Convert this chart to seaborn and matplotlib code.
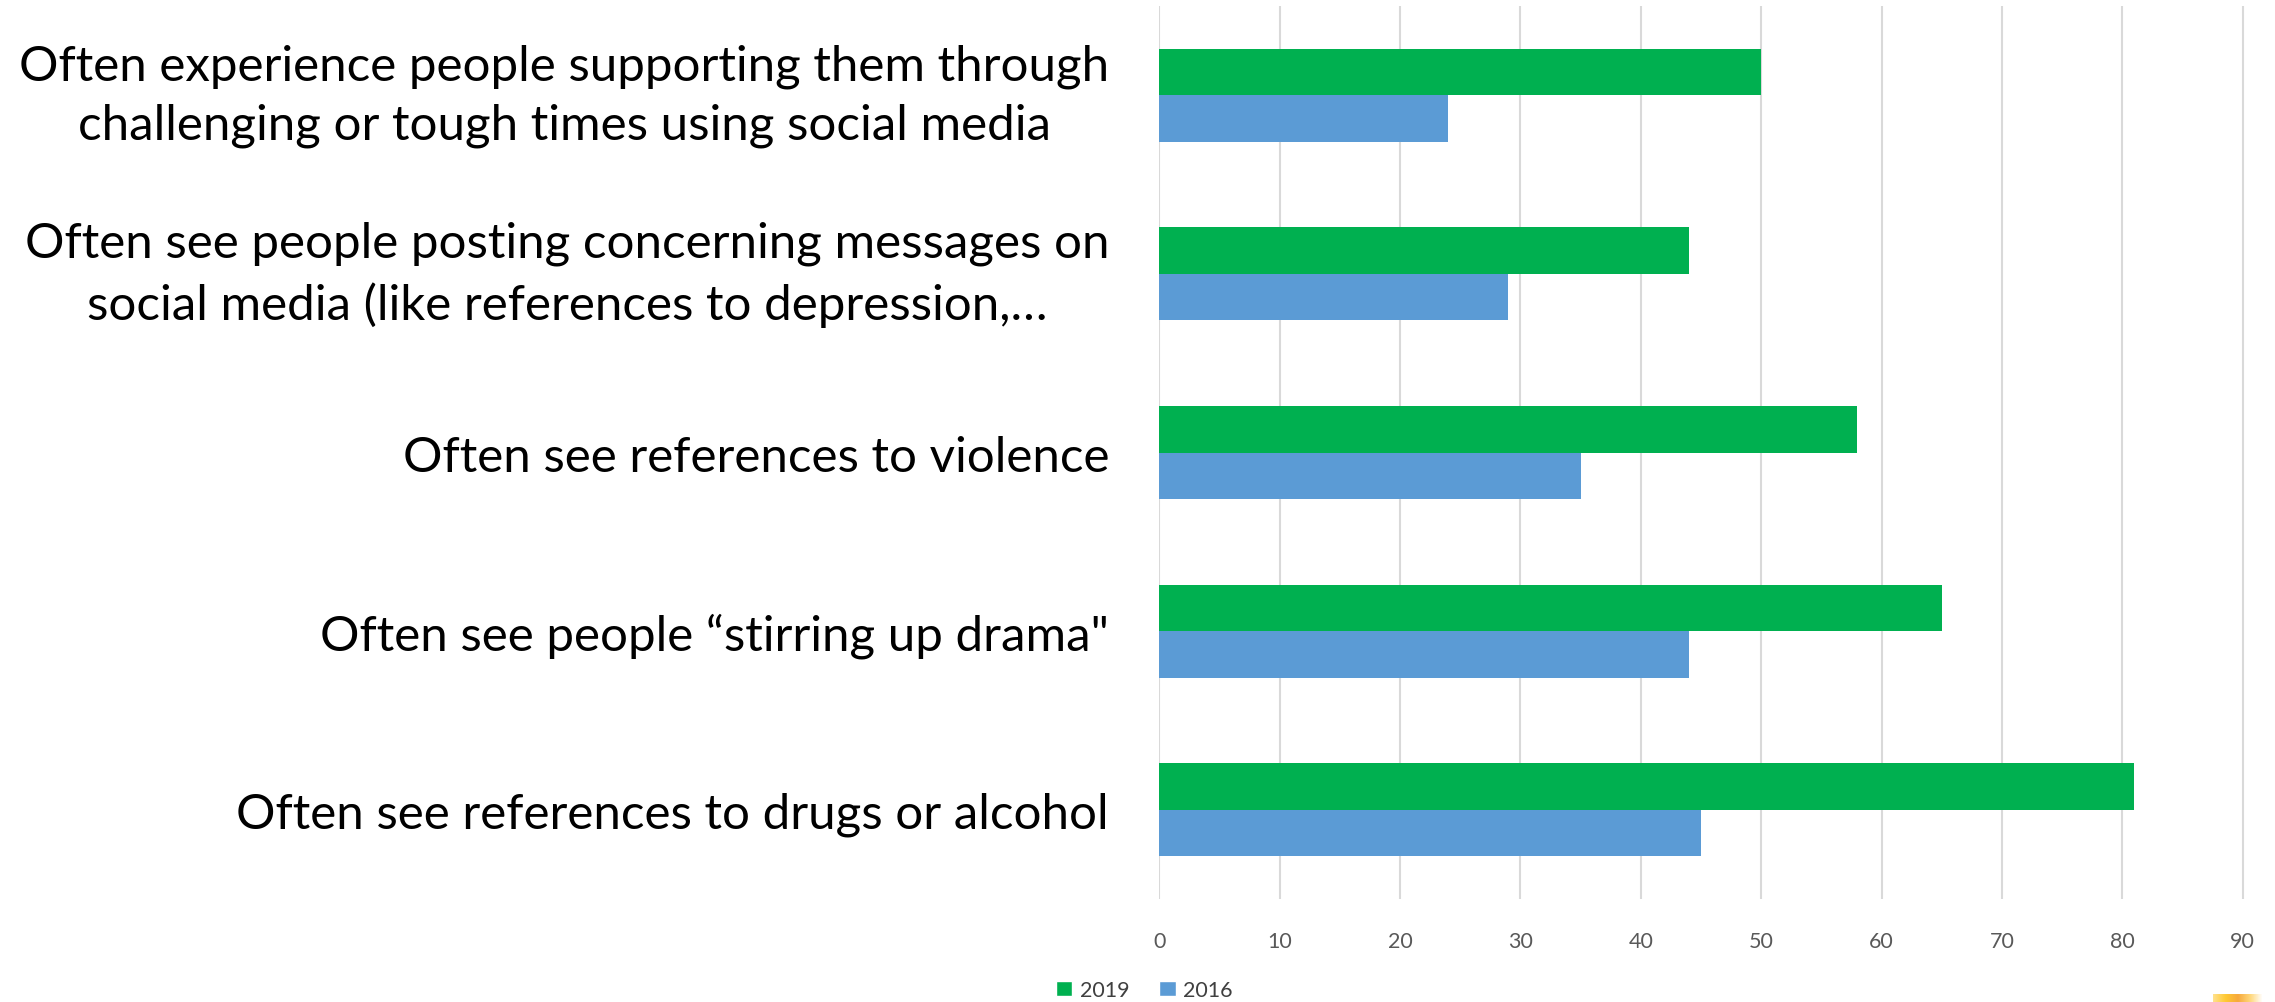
import numpy as np, pandas as pd
import seaborn as sns
import matplotlib.pyplot as plt
plt.switch_backend('agg')
from matplotlib.patches import Patch
from matplotlib.colors import LinearSegmentedColormap

### data ###
categories = [
    "Often experience people supporting them through\nchallenging or tough times using social media",
    "Often see people posting concerning messages on\nsocial media (like references to depression,\u2026",
    "Often see references to violence",
    "Often see people \u201cstirring up drama\"",
    "Often see references to drugs or alcohol",
]
years = ["2019", "2016"]
values_2019 = [50, 44, 58, 65, 81]
values_2016 = [24, 29, 35, 44, 45]
x_ticks = [0, 10, 20, 30, 40, 50, 60, 70, 80, 90]
year_colors = {"2019": "#00B050", "2016": "#5B9BD5"}

df = pd.DataFrame({
    "category": categories * 2,
    "year": ["2019"] * len(values_2019) + ["2016"] * len(values_2016),
    "value": values_2019 + values_2016,
})

### style ###
sns.set_theme(style="white")
plt.rcParams['font.family'] = ['Lato', 'DejaVu Sans']

fig = plt.figure(figsize=(22.75, 10.03), dpi=100)
ax = fig.add_axes([0.5095, 0.1027, 0.4774, 0.8903])

sns.barplot(data=df, x="value", y="category", hue="year", hue_order=years,
            palette=year_colors, orient="h", width=0.52, saturation=1,
            linewidth=0, legend=False, ax=ax)

ax.set_xlim(0, 90.2)
ax.set_xticks(x_ticks)
ax.set_xlabel("")
ax.set_ylabel("")
ax.xaxis.grid(True, color="#D9D9D9", linewidth=1.5)
ax.yaxis.grid(False)
ax.set_axisbelow(True)
for s in ax.spines.values():
    s.set_visible(False)

ax.tick_params(axis="x", length=0, pad=23, labelsize=15.5, labelcolor="#595959")
ax.tick_params(axis="y", length=0, pad=36, labelsize=35.5, labelcolor="black")
for t in ax.get_yticklabels():
    if "\n" in t.get_text():
        # two-line labels: centred lines, block centred on the bar pair
        t.set_multialignment("center")
        t.set_linespacing(1.42)
        t.set_verticalalignment("center")

# legend at bottom
handles = [Patch(facecolor=year_colors[y], label=y) for y in years]
fig.legend(handles=handles, loc="center", bbox_to_anchor=(0.503, 0.012), ncol=2,
           frameon=False, fontsize=15.5, handlelength=0.75, handleheight=0.75,
           handletextpad=0.35, columnspacing=1.4, labelcolor="#404040")

# small cropped yellow strip in the bottom-right corner
strip = fig.add_axes([2213 / 2275, 0, 50 / 2275, 8 / 1003])
strip_cmap = LinearSegmentedColormap.from_list(
    "strip", ["#FFE08A", "#FFC933", "#F7A93B", "#FFD77A", "#FFFFFF"])
strip.imshow(np.linspace(0, 1, 50).reshape(1, -1), aspect="auto", cmap=strip_cmap)
strip.axis("off")

fig.savefig("out.png", dpi=100)
plt.close()
